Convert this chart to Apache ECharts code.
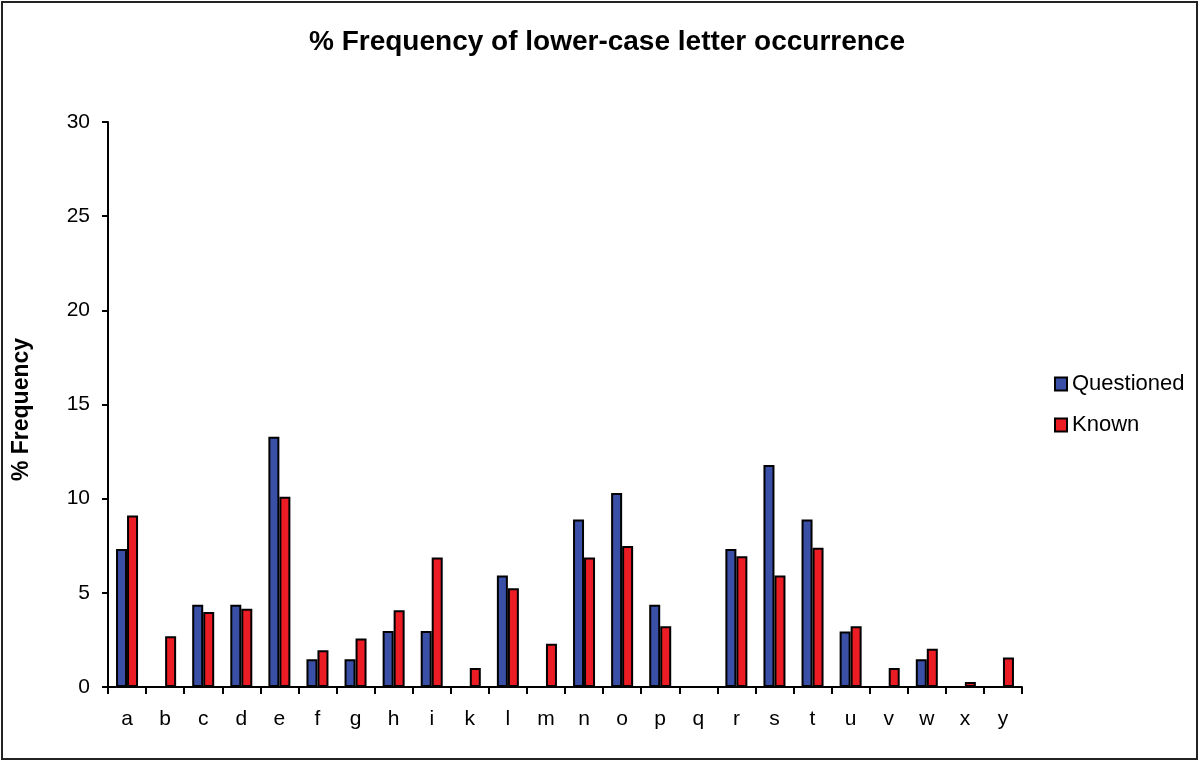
<!DOCTYPE html>
<html>
<head>
<meta charset="utf-8">
<script src="https://cdn.jsdelivr.net/npm/echarts@6/dist/echarts.min.js"></script>
<style>
  html, body { margin: 0; padding: 0; background: #fff; }
  #main { width: 1200px; height: 762px; }
</style>
</head>
<body>
<div id="main"></div>
<script>
var letters = ['a','b','c','d','e','f','g','h','i','k','l','m','n','o','p','q','r','s','t','u','v','w','x','y'];
var questioned = [7.33, 0, 4.37, 4.37, 13.29, 1.47, 1.47, 2.97, 2.97, 0, 5.92, 0, 8.89, 10.3, 4.37, 0, 7.33, 11.79, 8.89, 2.95, 0, 1.47, 0, 0];
var known = [9.1, 2.69, 3.98, 4.16, 10.1, 1.95, 2.58, 4.07, 6.87, 1.01, 5.25, 2.3, 6.87, 7.49, 3.23, 0, 6.94, 5.92, 7.4, 3.23, 1.01, 2.03, 0.27, 1.57];

var myChart = echarts.init(document.getElementById('main'));
var fontName = 'Liberation Sans, Arial, sans-serif';

var option = {
	animation: false,
	backgroundColor: '#fff',
	title: {
		text: '% Frequency of lower-case letter occurrence',
		left: 602,
		top: 23,
		textAlign: 'center',
		textStyle: { fontFamily: fontName, fontSize: 28, fontWeight: 'bold', color: '#000' }
	},
	legend: {
		orient: 'vertical',
		left: 1049,
		top: 368,
		icon: 'rect',
		itemWidth: 12,
		itemHeight: 13,
		itemGap: 19,
		textStyle: { fontFamily: fontName, fontSize: 22, color: '#000' },
		data: ['Questioned', 'Known']
	},
	grid: { left: 108, right: 178, top: 122, bottom: 75 },
	xAxis: {
		type: 'category',
		data: letters,
		axisLine: { lineStyle: { color: '#000', width: 2 } },
		axisTick: { show: true, length: 7, lineStyle: { color: '#000', width: 2 } },
		axisLabel: { fontFamily: fontName, fontSize: 21, color: '#000', margin: 22 }
	},
	yAxis: {
		type: 'value',
		min: 0,
		max: 30,
		interval: 5,
		name: '% Frequency',
		nameLocation: 'middle',
		nameGap: 75,
		nameTextStyle: { fontFamily: fontName, fontSize: 23, fontWeight: 'bold', color: '#000', padding: [0, 10, 0, 0] },
		axisLine: { show: true, lineStyle: { color: '#000', width: 2 } },
		axisTick: { show: true, length: 6, lineStyle: { color: '#000', width: 2 } },
		axisLabel: { fontFamily: fontName, fontSize: 21, color: '#000', margin: 18 },
		splitLine: { show: false }
	},
	series: [{
		name: 'Questioned',
		type: 'bar',
		data: questioned,
		barWidth: 11,
		barGap: '0%',
		itemStyle: { color: '#3a4fa6', borderColor: '#000', borderWidth: 2 }
	}, {
		name: 'Known',
		type: 'bar',
		data: known,
		barWidth: 11,
		barGap: '0%',
		itemStyle: { color: '#ec1c24', borderColor: '#000', borderWidth: 2 }
	}],
	graphic: [{
		type: 'rect',
		shape: { x: 2, y: 2, width: 1195, height: 757 },
		style: { fill: 'none', stroke: '#222', lineWidth: 2 }
	}]
};
myChart.setOption(option);
</script>
</body>
</html>
